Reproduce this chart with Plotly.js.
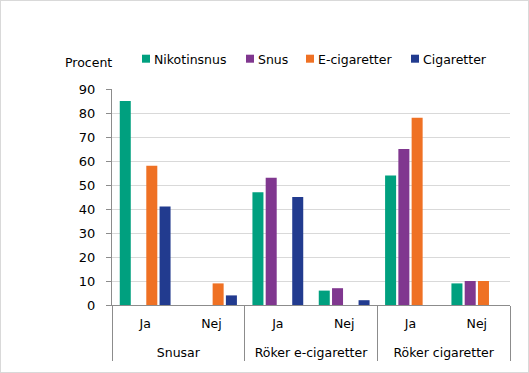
<!DOCTYPE html>
<html>
<head>
<meta charset="utf-8">
<script src="https://cdn.plot.ly/plotly-3.0.1.min.js"></script>
<style>
html,body{margin:0;padding:0;background:#fff;}
#wrap{position:relative;width:529px;height:373px;}
#chart{width:529px;height:373px;}
#frame{position:absolute;left:0;top:0;width:529px;height:373px;border:1px solid #d9d9d9;box-sizing:border-box;pointer-events:none;}
</style>
</head>
<body>
<div id="wrap"><div id="chart"></div><div id="frame"></div></div>
<script>
const groups = ["Snusar","Snusar","Röker e-cigaretter","Röker e-cigaretter","Röker cigaretter","Röker cigaretter"];
const subs = ["Ja","Nej","Ja","Nej","Ja","Nej"];
const seriesNames = ["Nikotinsnus","Snus","E-cigaretter","Cigaretter"];
const nikotinsnus = [85, null, 47, 6, 54, 9];
const snus = [null, null, 53, 7, 65, 10];
const ecigaretter = [58, 9, null, null, 78, 10];
const cigaretter = [41, 4, 45, 2, null, null];
const colors = ["#00a07f","#80378f","#ef7124","#223b8f"];
const yTicks = [0,10,20,30,40,50,60,70,80,90];

const W = 529, H = 373;
const M = {l: 112, r: 19, t: 89, b: 68};
const PW = W - M.l - M.r, PH = H - M.t - M.b;
const px2x = p => (p - M.l) / PW;
const py2y = p => (H - M.b - p) / PH;

// sub labels get an extra blank line so the group row sits lower, as in the reference
const subLabels = subs.map(s => s + "<br><span style='font-size:25px'>&nbsp;</span>");

const seriesValues = [nikotinsnus, snus, ecigaretter, cigaretter];
const traces = seriesValues.map((vals, i) => ({
  type: "bar",
  name: seriesNames[i],
  x: [groups, subLabels],
  y: vals,
  marker: {color: colors[i]},
  hoverinfo: "skip",
  showlegend: false
}));

const font = "DejaVu Sans, Verdana, sans-serif";

// legend built from series names and colours
const legendMarkerLeft = [142, 246, 306, 411];
const shapes = [], annotations = [];
seriesNames.forEach((n, i) => {
  const l = legendMarkerLeft[i];
  shapes.push({type: "rect", xref: "paper", yref: "paper",
    x0: px2x(l), x1: px2x(l + 8), y0: py2y(62.7), y1: py2y(54.7),
    fillcolor: colors[i], line: {width: 0}});
  annotations.push({text: n, xref: "paper", yref: "paper", x: px2x(l + 10), y: py2y(59),
    xanchor: "left", yanchor: "middle", showarrow: false,
    font: {family: font, size: 12.5, color: "#000"}});
});
annotations.push({text: "Procent", xref: "paper", yref: "paper", x: px2x(88), y: py2y(62),
  xanchor: "center", yanchor: "middle", showarrow: false,
  font: {family: font, size: 12.5, color: "#000"}});

const layout = {
  width: W, height: H,
  margin: M,
  paper_bgcolor: "#fff", plot_bgcolor: "#fff",
  font: {family: font, size: 12, color: "#000"},
  barmode: "group",
  bargap: 0.2,
  bargroupgap: 0.17,
  showlegend: false,
  xaxis: {type: "multicategory", showline: true, linecolor: "#8c8c8c", linewidth: 1,
          ticks: "", ticklabelstandoff: 7,
          showdividers: true, dividercolor: "#8c8c8c", dividerwidth: 1,
          tickfont: {family: font, size: 12.5, color: "#000"}},
  yaxis: {range: [0, 90], tickvals: yTicks, showgrid: true, gridcolor: "#d9d9d9",
          showline: true, linecolor: "#8c8c8c", ticks: "outside", ticklen: 5, tickcolor: "#8c8c8c",
          ticklabelstandoff: 8,
          zeroline: false, tickfont: {family: font, size: 13, color: "#000"}},
  shapes: shapes,
  annotations: annotations
};
Plotly.newPlot("chart", traces, layout, {displayModeBar: false, staticPlot: true});
</script>
</body>
</html>
